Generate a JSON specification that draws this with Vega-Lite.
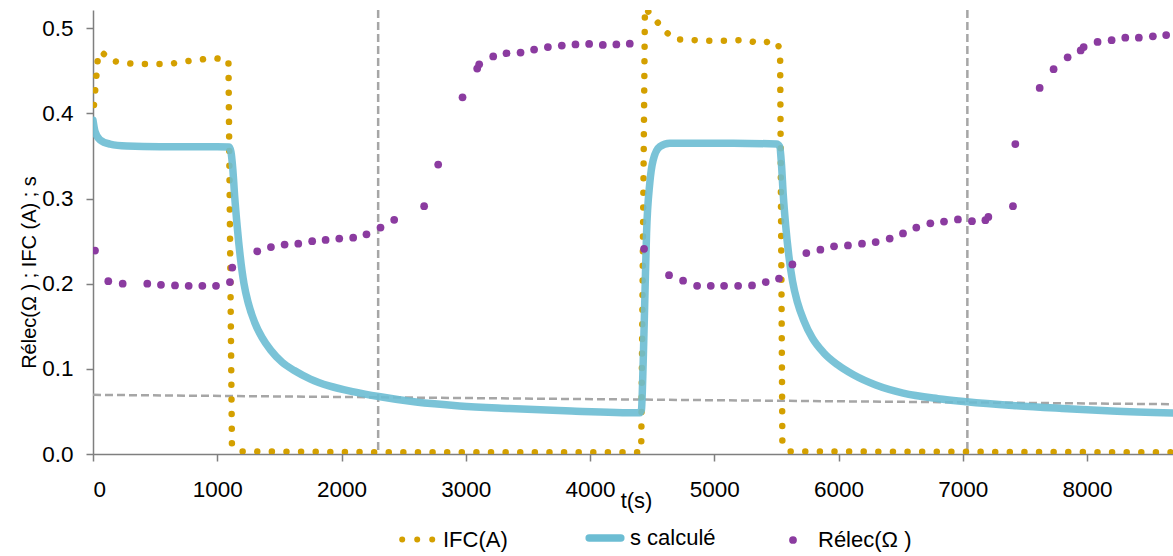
{
  "$schema": "https://vega.github.io/schema/vega-lite/v6.json",
  "width": 1080,
  "height": 444,
  "autosize": {"type": "none"},
  "padding": {"left": 93, "top": 10, "right": 0, "bottom": 102},
  "background": "white",
  "config": {
    "view": {"stroke": null},
    "font": "Liberation Sans",
    "axis": {
      "domainColor": "#7f7f7f",
      "tickColor": "#7f7f7f",
      "domainWidth": 1.5,
      "tickWidth": 1.5,
      "tickSize": 7,
      "grid": false,
      "labelColor": "#000000",
      "labelFontSize": 22.5,
      "labelFont": "Liberation Sans",
      "titleFont": "Liberation Sans",
      "titleFontWeight": "normal",
      "titleColor": "#000000"
    }
  },
  "datasets": {
    "ifc": [
      {"i": 0, "t": 8, "v": 0.41},
      {"i": 1, "t": 38, "v": 0.463},
      {"i": 2, "t": 64, "v": 0.473},
      {"i": 3, "t": 145, "v": 0.462},
      {"i": 4, "t": 260, "v": 0.459},
      {"i": 5, "t": 375, "v": 0.458},
      {"i": 6, "t": 499, "v": 0.458},
      {"i": 7, "t": 617, "v": 0.458},
      {"i": 8, "t": 732, "v": 0.461},
      {"i": 9, "t": 850, "v": 0.463},
      {"i": 10, "t": 968, "v": 0.465},
      {"i": 11, "t": 1090, "v": 0.463},
      {"i": 12, "t": 1118, "v": 0.012},
      {"i": 13, "t": 1175, "v": 0.003},
      {"i": 14, "t": 2500, "v": 0.002},
      {"i": 15, "t": 4400, "v": 0.002},
      {"i": 16, "t": 4412, "v": 0.003},
      {"i": 17, "t": 4442, "v": 0.524},
      {"i": 18, "t": 4521, "v": 0.511},
      {"i": 19, "t": 4594, "v": 0.498},
      {"i": 20, "t": 4682, "v": 0.487},
      {"i": 21, "t": 4789, "v": 0.4866},
      {"i": 22, "t": 4902, "v": 0.4855},
      {"i": 23, "t": 5017, "v": 0.4855},
      {"i": 24, "t": 5138, "v": 0.4855},
      {"i": 25, "t": 5250, "v": 0.4866},
      {"i": 26, "t": 5366, "v": 0.482},
      {"i": 27, "t": 5473, "v": 0.4855},
      {"i": 28, "t": 5513, "v": 0.482},
      {"i": 29, "t": 5530, "v": 0.47},
      {"i": 30, "t": 5548, "v": 0.0156},
      {"i": 31, "t": 5600, "v": 0.003},
      {"i": 32, "t": 8692, "v": 0.002}
    ],
    "s": [
      {"t": 0, "v": 0.392},
      {"t": 16, "v": 0.379},
      {"t": 56, "v": 0.369},
      {"t": 137, "v": 0.364},
      {"t": 271, "v": 0.3618},
      {"t": 539, "v": 0.361},
      {"t": 807, "v": 0.361},
      {"t": 1000, "v": 0.361},
      {"t": 1095, "v": 0.3605},
      {"t": 1110, "v": 0.355},
      {"t": 1125, "v": 0.335},
      {"t": 1140, "v": 0.303},
      {"t": 1160, "v": 0.268},
      {"t": 1185, "v": 0.232},
      {"t": 1215, "v": 0.2},
      {"t": 1250, "v": 0.177},
      {"t": 1300, "v": 0.155},
      {"t": 1360, "v": 0.137},
      {"t": 1430, "v": 0.122},
      {"t": 1520, "v": 0.108},
      {"t": 1620, "v": 0.098},
      {"t": 1750, "v": 0.088},
      {"t": 1900, "v": 0.08},
      {"t": 2100, "v": 0.073},
      {"t": 2300, "v": 0.0675},
      {"t": 2600, "v": 0.061},
      {"t": 2950, "v": 0.0565},
      {"t": 3350, "v": 0.0535},
      {"t": 3850, "v": 0.0505},
      {"t": 4401, "v": 0.0485},
      {"t": 4414, "v": 0.052},
      {"t": 4427, "v": 0.1026},
      {"t": 4441, "v": 0.181},
      {"t": 4455, "v": 0.259},
      {"t": 4481, "v": 0.318},
      {"t": 4508, "v": 0.345},
      {"t": 4562, "v": 0.361},
      {"t": 4642, "v": 0.365},
      {"t": 5152, "v": 0.365},
      {"t": 5501, "v": 0.364},
      {"t": 5527, "v": 0.361},
      {"t": 5541, "v": 0.34},
      {"t": 5555, "v": 0.305},
      {"t": 5575, "v": 0.268},
      {"t": 5600, "v": 0.233},
      {"t": 5630, "v": 0.203},
      {"t": 5670, "v": 0.178},
      {"t": 5720, "v": 0.157},
      {"t": 5790, "v": 0.136},
      {"t": 5880, "v": 0.119},
      {"t": 5990, "v": 0.105},
      {"t": 6120, "v": 0.093},
      {"t": 6300, "v": 0.081},
      {"t": 6520, "v": 0.0715},
      {"t": 6800, "v": 0.065},
      {"t": 7030, "v": 0.0614},
      {"t": 7400, "v": 0.057},
      {"t": 7800, "v": 0.0535},
      {"t": 8200, "v": 0.0505},
      {"t": 8692, "v": 0.0482}
    ],
    "r": [
      {"t": 16, "v": 0.239}, {"t": 123, "v": 0.203}, {"t": 239, "v": 0.2},
      {"t": 437, "v": 0.2}, {"t": 547, "v": 0.1987}, {"t": 660, "v": 0.198},
      {"t": 770, "v": 0.1975}, {"t": 880, "v": 0.1975}, {"t": 990, "v": 0.1975},
      {"t": 1102, "v": 0.202}, {"t": 1121, "v": 0.219}, {"t": 1322, "v": 0.238},
      {"t": 1432, "v": 0.243}, {"t": 1542, "v": 0.246}, {"t": 1652, "v": 0.247},
      {"t": 1764, "v": 0.25}, {"t": 1872, "v": 0.2515}, {"t": 1982, "v": 0.253},
      {"t": 2094, "v": 0.254}, {"t": 2201, "v": 0.258}, {"t": 2314, "v": 0.266},
      {"t": 2424, "v": 0.275}, {"t": 2665, "v": 0.291}, {"t": 2778, "v": 0.34},
      {"t": 2974, "v": 0.419}, {"t": 3092, "v": 0.4527}, {"t": 3108, "v": 0.4577},
      {"t": 3221, "v": 0.467}, {"t": 3328, "v": 0.4707}, {"t": 3441, "v": 0.4715},
      {"t": 3550, "v": 0.475}, {"t": 3661, "v": 0.478}, {"t": 3773, "v": 0.4797},
      {"t": 3883, "v": 0.481}, {"t": 3993, "v": 0.4816}, {"t": 4103, "v": 0.4805},
      {"t": 4212, "v": 0.481}, {"t": 4320, "v": 0.482}, {"t": 4435, "v": 0.241},
      {"t": 4636, "v": 0.21}, {"t": 4749, "v": 0.2035}, {"t": 4862, "v": 0.1975},
      {"t": 4972, "v": 0.1975}, {"t": 5079, "v": 0.1975}, {"t": 5192, "v": 0.1975},
      {"t": 5304, "v": 0.198}, {"t": 5414, "v": 0.202}, {"t": 5521, "v": 0.206},
      {"t": 5629, "v": 0.2226}, {"t": 5741, "v": 0.236}, {"t": 5854, "v": 0.24},
      {"t": 5964, "v": 0.244}, {"t": 6076, "v": 0.245}, {"t": 6189, "v": 0.247},
      {"t": 6299, "v": 0.249}, {"t": 6412, "v": 0.253}, {"t": 6519, "v": 0.259},
      {"t": 6626, "v": 0.266}, {"t": 6739, "v": 0.271}, {"t": 6849, "v": 0.273},
      {"t": 6961, "v": 0.2755}, {"t": 7074, "v": 0.2735}, {"t": 7182, "v": 0.2746},
      {"t": 7206, "v": 0.2785}, {"t": 7404, "v": 0.291}, {"t": 7423, "v": 0.364},
      {"t": 7619, "v": 0.43}, {"t": 7731, "v": 0.452}, {"t": 7844, "v": 0.466},
      {"t": 7949, "v": 0.474}, {"t": 7973, "v": 0.478}, {"t": 8085, "v": 0.484},
      {"t": 8198, "v": 0.486}, {"t": 8308, "v": 0.489}, {"t": 8417, "v": 0.489},
      {"t": 8530, "v": 0.4906}, {"t": 8637, "v": 0.492}
    ],
    "vlines": [{"t": 2295}, {"t": 7037}],
    "hline": [{"t": 0, "v": 0.0695}, {"t": 8692, "v": 0.0585}]
  },
  "layer": [
    {
      "data": {"name": "vlines"},
      "mark": {"type": "rule", "color": "#a6a6a6", "strokeWidth": 2.5, "strokeDash": [8, 4]},
      "encoding": {
        "x": {
          "field": "t", "type": "quantitative",
          "scale": {"domain": [0, 8692], "nice": false, "zero": false},
          "axis": {
            "values": [0, 1000, 2000, 3000, 4000, 5000, 6000, 7000, 8000],
            "format": "d",
            "labelPadding": 17,
            "title": "t(s)",
            "titleFontSize": 22,
            "titleX": 543,
            "titleY": 46,
            "titleAlign": "center",
            "titleBaseline": "middle"
          }
        }
      }
    },
    {
      "data": {"name": "hline"},
      "mark": {"type": "line", "color": "#a6a6a6", "strokeWidth": 2.5, "strokeDash": [8, 4]},
      "encoding": {
        "x": {"field": "t", "type": "quantitative"},
        "y": {
          "field": "v", "type": "quantitative",
          "scale": {"domain": [0, 0.5215], "nice": false},
          "axis": {
            "values": [0, 0.1, 0.2, 0.3, 0.4, 0.5],
            "format": ".1f",
            "labelPadding": 13,
            "title": "Rélec(Ω ) ; IFC (A) ; s",
            "titleFontSize": 20,
            "titleX": -64,
            "titleY": 262,
            "titleAlign": "center",
            "titleBaseline": "middle"
          }
        }
      }
    },
    {
      "data": {"name": "ifc"},
      "transform": [{"calculate": "'I'", "as": "series"}],
      "mark": {"type": "line", "clip": true, "strokeWidth": 6.5, "strokeCap": "round", "strokeDash": [0.01, 14.6]},
      "encoding": {
        "x": {"field": "t", "type": "quantitative"},
        "y": {"field": "v", "type": "quantitative"},
        "order": {"field": "i"},
        "color": {
          "field": "series", "type": "nominal",
          "scale": {"domain": ["I", "s", "R"], "range": ["#d4a000", "#6cbdd3", "#8b3ba0"]},
          "legend": {
            "orient": "none",
            "direction": "horizontal",
            "legendX": 314,
            "legendY": 517,
            "title": null,
            "labelFontSize": 22,
            "labelFont": "Liberation Sans",
            "labelColor": "#000000",
            "labelOffset": 14,
            "columnPadding": 66,
            "symbolSize": 1000,
            "labelExpr": "datum.value === 'I' ? 'IFC(A)' : datum.value === 's' ? 's calculé' : 'Rélec(Ω )'",
            "encode": {
              "symbols": {
                "update": {
                  "shape": {"signal": "datum.value === 'R' ? 'circle' : 'stroke'"},
                  "size": {"signal": "datum.value === 'R' ? 60 : 1000"},
                  "strokeWidth": {"signal": "datum.value === 'R' ? 0 : datum.value === 's' ? 7.5 : 6"},
                  "strokeDash": {"signal": "datum.value === 'I' ? [0.01, 15] : [1, 0]"},
                  "strokeCap": {"value": "round"},
                  "fill": {"signal": "datum.value === 'R' ? '#8b3ba0' : 'transparent'"},
                  "stroke": {"signal": "datum.value === 'I' ? '#d4a000' : datum.value === 's' ? '#6cbdd3' : '#8b3ba0'"},
                  "opacity": {"value": 1}
                }
              }
            }
          }
        }
      }
    },
    {
      "data": {"name": "s"},
      "transform": [{"calculate": "'s'", "as": "series"}],
      "mark": {"type": "line", "clip": true, "strokeWidth": 7.5, "strokeCap": "round", "strokeJoin": "round", "interpolate": "monotone", "opacity": 0.9},
      "encoding": {
        "x": {"field": "t", "type": "quantitative"},
        "y": {"field": "v", "type": "quantitative"},
        "color": {"field": "series", "type": "nominal"}
      }
    },
    {
      "data": {"name": "r"},
      "transform": [{"calculate": "'R'", "as": "series"}],
      "mark": {"type": "point", "filled": true, "size": 60, "opacity": 1, "clip": true},
      "encoding": {
        "x": {"field": "t", "type": "quantitative"},
        "y": {"field": "v", "type": "quantitative"},
        "color": {"field": "series", "type": "nominal"}
      }
    }
  ]
}
